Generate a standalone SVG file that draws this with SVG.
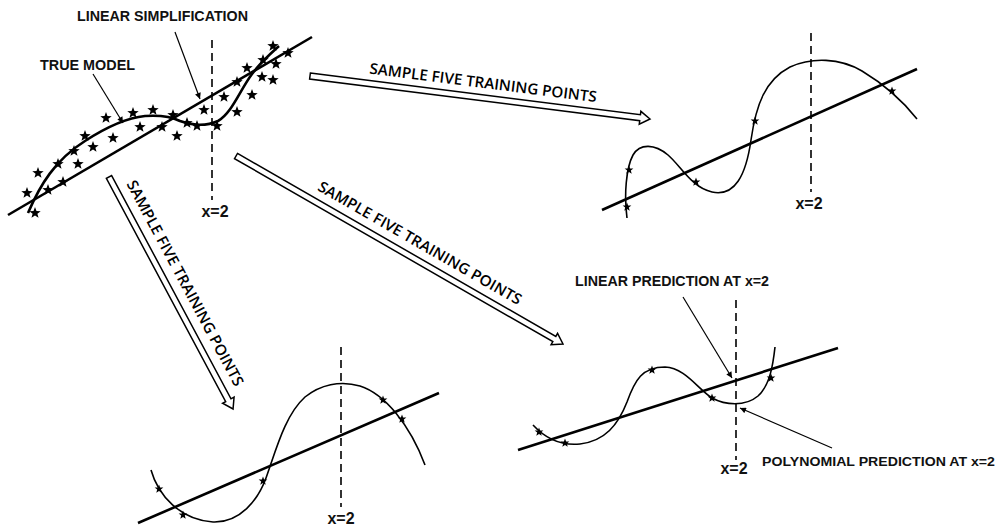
<svg xmlns="http://www.w3.org/2000/svg" xmlns:xlink="http://www.w3.org/1999/xlink" width="1007" height="527" viewBox="0 0 1007 527">
<style>
.bg{fill:#fff}
.fit{fill:none;stroke:#000;stroke-width:2.6;stroke-linecap:butt}
.curve{fill:none;stroke:#000;stroke-width:1.6}
.truec{fill:none;stroke:#000;stroke-width:2.6}
.dash{fill:none;stroke:#000;stroke-width:1.6;stroke-dasharray:8,5}
.ptr{fill:none;stroke:#000;stroke-width:1.2}
.big{fill:#fff;stroke:#000;stroke-width:1.5;stroke-linejoin:miter}
.lbl{font-family:"Liberation Sans",Arial,sans-serif;font-weight:bold;font-size:15px;fill:#111}
.xl{font-family:"Liberation Sans",Arial,sans-serif;font-weight:bold;font-size:16px;fill:#111}
.alb{font-family:"Open Sans","Liberation Sans",sans-serif;font-weight:600;font-size:15px;fill:#000}
</style>
<defs>
<path id="sb" d="M0,-6 L1.47,-2.02 L5.71,-1.85 L2.38,0.77 L3.53,4.85 L0,2.5 L-3.53,4.85 L-2.38,0.77 L-5.71,-1.85 L-1.47,-2.02 Z" fill="#000"/>
<path id="ss" d="M0,-4.6 L1.13,-1.55 L4.37,-1.42 L1.82,0.59 L2.7,3.72 L0,1.92 L-2.7,3.72 L-1.82,0.59 L-4.37,-1.42 L-1.13,-1.55 Z" fill="#000"/>
<marker id="ah" viewBox="0 0 10 10" refX="10" refY="5" markerWidth="8" markerHeight="6" markerUnits="userSpaceOnUse" orient="auto">
<path d="M0,0 L10,5 L0,10 Z" fill="#000"/>
</marker>
</defs>
<rect class="bg" x="0" y="0" width="1007" height="527"/>

<g id="panel-true-model">
<line class="dash" x1="212" y1="40" x2="212" y2="200"/>
<line class="fit" x1="8" y1="215" x2="312" y2="37"/>
<path class="truec" d="M28,213 C40,185 55,160 85,141 C105,128 125,118 145,116 C160,115 170,116 180,121 C190,125 205,127 218,121 C232,113 240,90 252,74 C260,63 270,54 279,46"/>
<g>
<use href="#sb" x="273" y="46"/><use href="#sb" x="288" y="53"/><use href="#sb" x="263" y="60"/>
<use href="#sb" x="276" y="64"/><use href="#sb" x="247" y="68"/><use href="#sb" x="262" y="77"/>
<use href="#sb" x="273" y="80"/><use href="#sb" x="237" y="82"/><use href="#sb" x="224" y="97"/>
<use href="#sb" x="252" y="95"/><use href="#sb" x="204" y="110"/><use href="#sb" x="237" y="112"/>
<use href="#sb" x="153" y="110"/><use href="#sb" x="133" y="113"/><use href="#sb" x="173" y="115"/>
<use href="#sb" x="106" y="118"/><use href="#sb" x="140" y="127"/><use href="#sb" x="162" y="127"/>
<use href="#sb" x="187" y="123"/><use href="#sb" x="197" y="126"/><use href="#sb" x="217" y="126"/>
<use href="#sb" x="177" y="136"/><use href="#sb" x="85" y="136"/><use href="#sb" x="113" y="138"/>
<use href="#sb" x="93" y="147"/><use href="#sb" x="74" y="151"/><use href="#sb" x="58" y="164"/>
<use href="#sb" x="78" y="164"/><use href="#sb" x="38" y="173"/><use href="#sb" x="63" y="182"/>
<use href="#sb" x="48" y="190"/><use href="#sb" x="27" y="193"/><use href="#sb" x="35" y="213"/>
</g>
<text class="lbl" x="162.5" y="21" text-anchor="middle" textLength="171" lengthAdjust="spacingAndGlyphs">LINEAR SIMPLIFICATION</text>
<text class="lbl" x="87.5" y="70" text-anchor="middle" textLength="95" lengthAdjust="spacingAndGlyphs">TRUE MODEL</text>
<text class="xl" x="215" y="217" text-anchor="middle">x=2</text>
</g>

<g id="panel-top-right">
<line class="dash" x1="811" y1="33" x2="811" y2="192"/>
<line class="fit" x1="602" y1="210" x2="917" y2="69"/>
<path class="curve" d="M627,218 C624,195 626,168 633,155 C640,143 655,144 668,155 C680,165 692,188 712,192 C735,197 746,175 751,140 C756,105 765,80 790,67 C812,57 840,58 862,71 C882,83 902,100 917,119"/>
<use href="#ss" x="627" y="207"/><use href="#ss" x="629" y="170"/><use href="#ss" x="696" y="182"/>
<use href="#ss" x="755" y="121"/><use href="#ss" x="892" y="91"/>
<text class="xl" x="809" y="209" text-anchor="middle">x=2</text>
</g>

<g id="panel-bottom-left">
<line class="dash" x1="341" y1="347" x2="341" y2="507"/>
<line class="fit" x1="138" y1="523" x2="439" y2="393"/>
<path class="curve" d="M151,470 C158,495 180,520 213,522 C240,523 258,500 266,478 C276,450 285,415 305,397 C320,385 340,380 360,386 C385,394 410,425 425,465"/>
<use href="#ss" x="159" y="489"/><use href="#ss" x="183" y="515"/><use href="#ss" x="263" y="481"/>
<use href="#ss" x="383" y="400"/><use href="#ss" x="402" y="419"/>
<text class="xl" x="341" y="524" text-anchor="middle">x=2</text>
</g>

<g id="panel-bottom-right">
<line class="dash" x1="736" y1="300" x2="736" y2="460"/>
<line class="fit" x1="518" y1="450" x2="838" y2="348"/>
<path class="curve" d="M533,425 C545,438 560,446 580,444 C605,441 618,425 627,402 C635,380 642,367 665,367 C685,368 697,388 712,398 C725,405 745,407 758,396 C770,385 773,365 775,347"/>
<use href="#ss" x="539" y="432"/><use href="#ss" x="565" y="443"/><use href="#ss" x="652" y="370"/>
<use href="#ss" x="712" y="398"/><use href="#ss" x="771" y="378"/>
<text class="xl" x="734" y="474" text-anchor="middle">x=2</text>
<text class="lbl" x="672" y="286" text-anchor="middle" textLength="194" lengthAdjust="spacingAndGlyphs">LINEAR PREDICTION AT x=2</text>
<text class="lbl" x="878.5" y="466" text-anchor="middle" style="font-size:13px" textLength="233" lengthAdjust="spacingAndGlyphs">POLYNOMIAL PREDICTION AT x=2</text>
</g>

<g id="connectors">
<line class="ptr" x1="175" y1="32" x2="200" y2="99" marker-end="url(#ah)"/>
<line class="ptr" x1="93" y1="74" x2="123" y2="123" marker-end="url(#ah)"/>
<line class="ptr" x1="683" y1="297" x2="732" y2="378" marker-end="url(#ah)"/>
<line class="ptr" x1="832" y1="448" x2="740" y2="408" marker-end="url(#ah)"/>

<g transform="translate(310,76) rotate(7.21)">
<polygon class="big" points="0,-3 332.7,-3 332.7,-6.5 342.7,0 332.7,6.5 332.7,3 0,3"/>
</g>
<text class="alb" transform="translate(482.5,87.8) rotate(7.21)" text-anchor="middle" textLength="229" lengthAdjust="spacingAndGlyphs">SAMPLE FIVE TRAINING POINTS</text>

<g transform="translate(236,156) rotate(29.9)">
<polygon class="big" points="0,-3 367.2,-3 367.2,-6.5 377.2,0 367.2,6.5 367.2,3 0,3"/>
</g>
<text class="alb" transform="translate(417.3,247.5) rotate(29.9)" text-anchor="middle" textLength="232" lengthAdjust="spacingAndGlyphs">SAMPLE FIVE TRAINING POINTS</text>

<g transform="translate(109,177) rotate(61.87)">
<polygon class="big" points="0,-3 253.1,-3 253.1,-6.5 263.1,0 253.1,6.5 253.1,3 0,3"/>
</g>
<text class="alb" transform="translate(180.6,285.6) rotate(61.87)" text-anchor="middle" textLength="231" lengthAdjust="spacingAndGlyphs">SAMPLE FIVE TRAINING POINTS</text>
</g>
</svg>
